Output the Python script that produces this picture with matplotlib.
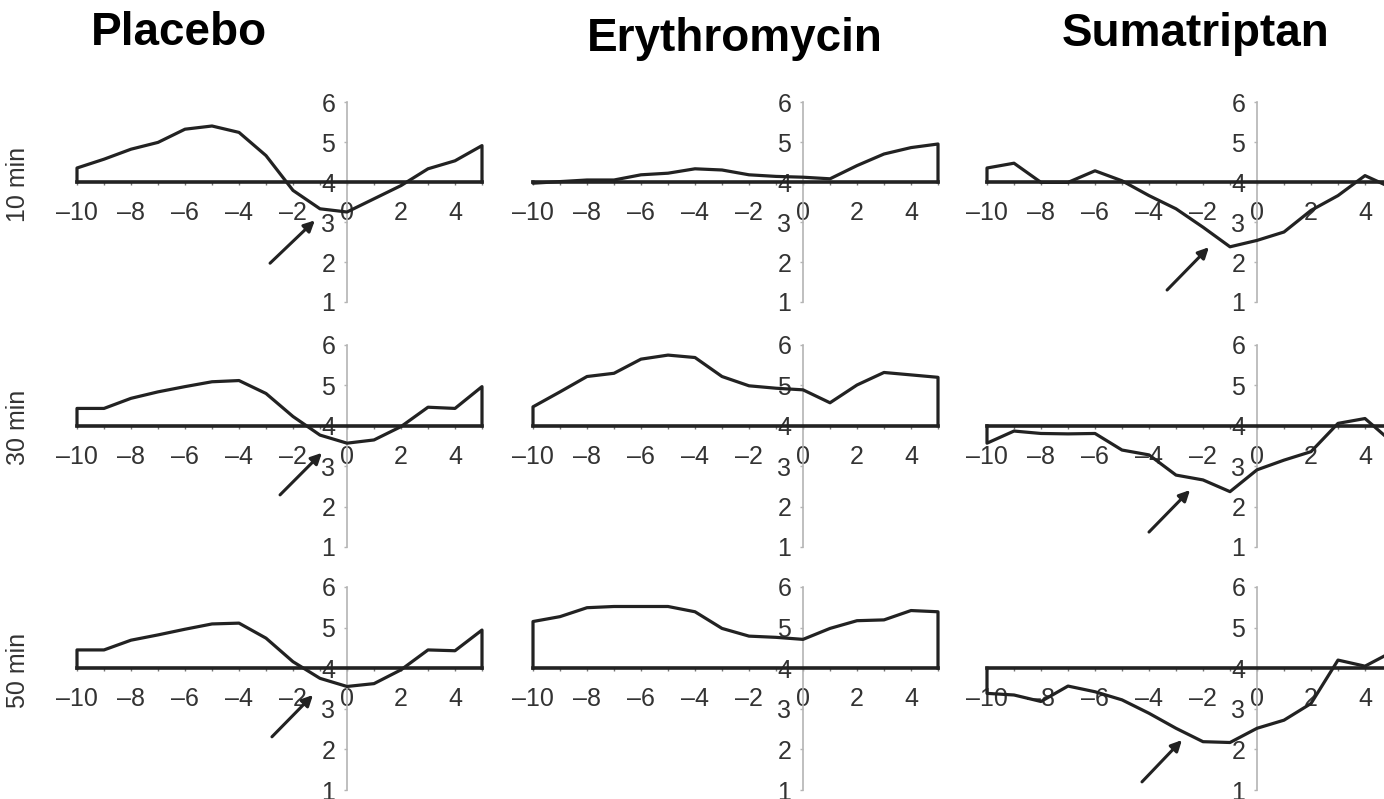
import numpy as np
import matplotlib.pyplot as plt

plt.rcParams['font.family'] = ['Liberation Sans', 'DejaVu Sans']

W, H = 1384, 799

# time points (min) and group/row names
minutes = np.arange(-10, 6)
drugs = ['Placebo', 'Erythromycin', 'Sumatriptan']
times = ['10 min', '30 min', '50 min']

# mean values per time point, one list per panel
placebo_10 = [4.35, 4.57, 4.82, 4.99, 5.32, 5.40, 5.24, 4.66, 3.79, 3.33, 3.25, 3.58, 3.91, 4.33, 4.53, 4.91]
placebo_30 = [4.43, 4.43, 4.68, 4.84, 4.97, 5.09, 5.12, 4.80, 4.23, 3.77, 3.57, 3.65, 3.98, 4.46, 4.43, 4.97]
placebo_50 = [4.45, 4.45, 4.69, 4.82, 4.96, 5.09, 5.11, 4.74, 4.16, 3.75, 3.55, 3.62, 3.96, 4.45, 4.43, 4.94]

erythro_10 = [3.97, 4.01, 4.05, 4.05, 4.18, 4.22, 4.33, 4.30, 4.18, 4.14, 4.12, 4.08, 4.41, 4.70, 4.86, 4.95]
erythro_30 = [4.47, 4.84, 5.22, 5.30, 5.65, 5.75, 5.69, 5.22, 4.99, 4.93, 4.89, 4.57, 5.01, 5.32, 5.26, 5.20]
erythro_50 = [5.15, 5.27, 5.49, 5.52, 5.52, 5.52, 5.39, 4.98, 4.79, 4.76, 4.71, 4.98, 5.17, 5.19, 5.42, 5.39]

suma_10 = [4.35, 4.47, 3.99, 3.99, 4.28, 4.03, 3.66, 3.33, 2.87, 2.38, 2.54, 2.75, 3.29, 3.66, 4.16, 3.85]
suma_30 = [3.57, 3.87, 3.81, 3.80, 3.81, 3.40, 3.28, 2.78, 2.66, 2.37, 2.91, 3.15, 3.36, 4.06, 4.18, 3.60]
suma_50 = [3.38, 3.34, 3.18, 3.56, 3.42, 3.22, 2.89, 2.52, 2.19, 2.17, 2.52, 2.72, 3.13, 4.20, 4.05, 4.40]

series = [[placebo_10, erythro_10, suma_10],
          [placebo_30, erythro_30, suma_30],
          [placebo_50, erythro_50, suma_50]]

# arrows marking the dip: (tail, head) in data units
arrows = [[((-2.85, 1.97), (-1.19, 3.04)), None, ((-3.33, 1.30), (-1.78, 2.37))],
          [((-2.48, 2.29), (-0.93, 3.33)), None, ((-4.00, 1.37), (-2.48, 2.41))],
          [((-2.78, 2.31), (-1.26, 3.34)), None, ((-4.26, 1.20), (-2.78, 2.23))]]

# panel placement in pixels: x=-10..5 and y=6..1
col_left = [77, 533, 987]
col_w = 405
row_top = [102, 345, 587]
row_bot = [302, 547, 790]

fig = plt.figure(figsize=(W / 100, H / 100), dpi=100)

dark = '#222222'
grey = '#b4b4b4'
tick_col = '#333333'

for r in range(3):
    for c in range(3):
        l = col_left[c] / W
        b = 1 - row_bot[r] / H
        h = (row_bot[r] - row_top[r]) / H
        ax = fig.add_axes([l, b, col_w / W, h])
        ax.set_xlim(-10, 5)
        ax.set_ylim(1, 6)
        ax.patch.set_alpha(0)

        vals = series[r][c]
        xs = np.concatenate([[-10], minutes, [5]])
        ys = np.concatenate([[4], vals, [4]])
        ax.plot(xs, ys, color=dark, lw=2.3, zorder=4, clip_on=False,
                solid_joinstyle='round')

        ax.spines['top'].set_visible(False)
        ax.spines['right'].set_visible(False)
        ax.spines['left'].set_position(('data', 0))
        ax.spines['left'].set_color(grey)
        ax.spines['left'].set_linewidth(1.2)
        ax.spines['left'].set_bounds(1, 6)
        ax.spines['bottom'].set_position(('data', 4))
        ax.spines['bottom'].set_color(dark)
        ax.spines['bottom'].set_linewidth(2.6)
        ax.spines['bottom'].set_bounds(-10, 5)
        ax.spines['bottom'].set_zorder(3)

        ax.set_yticks([1, 2, 3, 4, 5, 6])
        ax.set_xticks(np.arange(-10, 5, 2))
        ax.set_xticklabels([str(v).replace('-', '\u2013') for v in range(-10, 5, 2)])
        ax.set_xticks(np.arange(-10, 6), minor=True)
        ax.tick_params(axis='y', direction='out', length=2.5, width=1,
                       color=grey, pad=6, labelsize=18, labelcolor=tick_col)
        ax.tick_params(axis='x', which='both', direction='out', length=2,
                       width=1, color='#777777', pad=11.5, labelsize=18,
                       labelcolor=tick_col)

        if arrows[r][c] is not None:
            tail, head = arrows[r][c]
            ax.annotate('', xy=head, xytext=tail, annotation_clip=False,
                        arrowprops=dict(arrowstyle='-|>', lw=2.2, color=dark,
                                        mutation_scale=16, shrinkA=0, shrinkB=0))

        if c == 0:
            ax.text(-12.2, 3.95, times[r], rotation=90, ha='center', va='center',
                    fontsize=18, color=tick_col, clip_on=False)

# column headings
fig.text(179 / W, 1 - 45 / H, drugs[0], ha='center', va='baseline',
         fontsize=33, fontweight='bold')
fig.text(735 / W, 1 - 51 / H, drugs[1], ha='center', va='baseline',
         fontsize=33, fontweight='bold')
fig.text(1196 / W, 1 - 46 / H, drugs[2], ha='center', va='baseline',
         fontsize=33, fontweight='bold')

fig.savefig('out.png', dpi=100)
